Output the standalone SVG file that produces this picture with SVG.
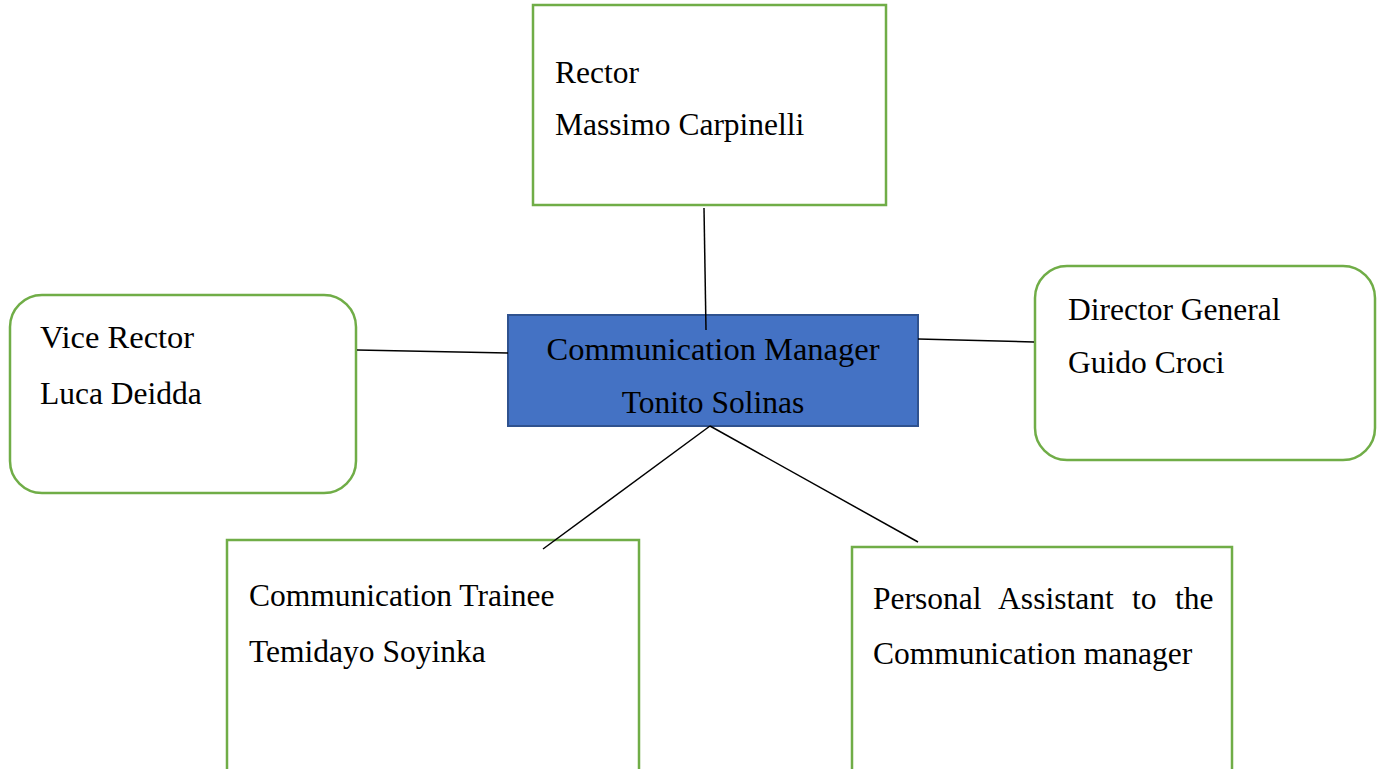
<svg xmlns="http://www.w3.org/2000/svg" width="1377" height="769" viewBox="0 0 1377 769">
<style>
.box{fill:#ffffff;stroke:#70AD47;stroke-width:2.5}
.main{fill:#4472C4;stroke:#2F528F;stroke-width:2}
.t{font-family:"Liberation Serif","Times New Roman",serif;font-size:31.5px;fill:#000000}
.c{stroke:#000000;stroke-width:1.5;fill:none}
</style>
<rect width="1377" height="769" fill="#ffffff"/>
<g id="rector">
<rect class="box" x="533" y="5" width="353" height="200"/>
<text class="t" x="555" y="83">Rector</text>
<text class="t" x="555" y="135">Massimo  Carpinelli</text>
</g>
<g id="manager">
<rect class="main" x="508" y="315" width="410" height="111"/>
<text class="t" x="713" y="360" text-anchor="middle" style="font-size:32.5px">Communication Manager</text>
<text class="t" x="713" y="413" text-anchor="middle">Tonito Solinas</text>
</g>
<g id="vicerector">
<rect class="box" x="10" y="295" width="346" height="198" rx="32"/>
<text class="t" x="40" y="348" style="font-size:32.5px">Vice Rector</text>
<text class="t" x="40" y="404">Luca Deidda</text>
</g>
<g id="director">
<rect class="box" x="1035" y="266" width="340" height="194" rx="32"/>
<text class="t" x="1068" y="320">Director General</text>
<text class="t" x="1068" y="373">Guido Croci</text>
</g>
<g id="trainee">
<rect class="box" x="227" y="540" width="412" height="240"/>
<text class="t" x="249" y="606">Communication Trainee</text>
<text class="t" x="249" y="662">Temidayo Soyinka</text>
</g>
<g id="assistant">
<rect class="box" x="852" y="547" width="380" height="240"/>
<text class="t" x="873" y="609" word-spacing="10.5">Personal Assistant to the</text>
<text class="t" x="873" y="664">Communication manager</text>
</g>
<g id="connectors">
<line class="c" x1="704" y1="208" x2="706" y2="330"/>
<line class="c" x1="357" y1="350" x2="508" y2="353"/>
<line class="c" x1="918" y1="339" x2="1034" y2="342"/>
<line class="c" x1="710" y1="426" x2="543" y2="549"/>
<line class="c" x1="710" y1="426" x2="918" y2="542"/>
</g>
</svg>
